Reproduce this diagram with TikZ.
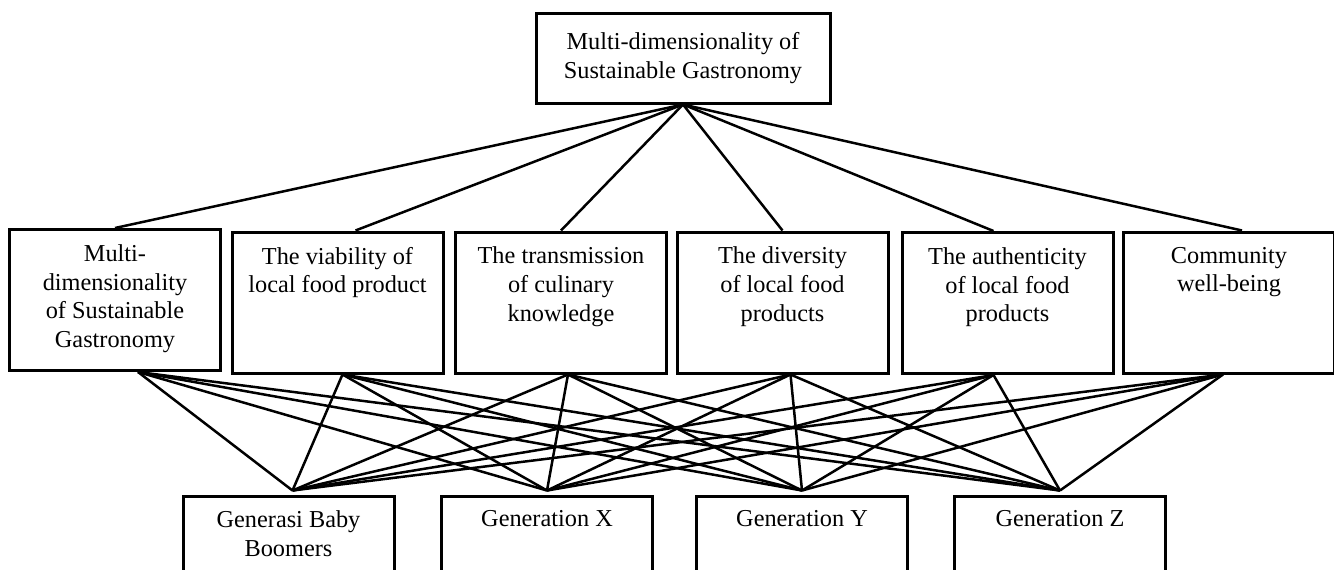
\documentclass[tikz,border=0pt]{standalone}
\usepackage{fontspec}
\setmainfont{Liberation Serif}
\newcommand{\toptxt}[2]{\parbox[t][#1][t]{205pt}{\centering #2}}
\tikzset{
  every node/.style={font=\fontsize{24.3}{28.8}\selectfont},
  frame/.style={draw, line width=3pt, inner sep=0pt, minimum width=211pt},
  dim/.style={frame, minimum height=141pt},
  gen/.style={frame, minimum height=110pt},
  link/.style={line width=2.5pt}
}
\begin{document}
\begin{tikzpicture}[x=1pt, y=-1pt]
\useasboundingbox (0,0) rectangle (1334,570);
\clip (0,0) rectangle (1334,570);

\node[frame, minimum width=294pt, minimum height=90pt, align=center] (goal) at (683,58) {Multi-dimensionality of\\[1pt]Sustainable Gastronomy};

\node[dim] (d1) at (115,300) {\toptxt{111pt}{Multi-\\dimensionality\\of Sustainable\\Gastronomy}};
\node[dim] (d2) at (337.5,302.5) {\toptxt{111pt}{The viability of\\local food product}};
\node[dim] (d3) at (561,302.5) {\toptxt{111pt}{The transmission\\of culinary\\knowledge}};
\node[dim] (d4) at (782.5,302.5) {\toptxt{111pt}{The diversity\\of local food\\products}};
\node[dim] (d5) at (1007.5,303) {\toptxt{111pt}{The authenticity\\of local food\\products}};
\node[dim] (d6) at (1229,302.5) {\toptxt{111pt}{Community\\well-being}};

\node[gen] (g1) at (288.5,551) {\toptxt{80pt}{Generasi Baby\\Boomers}};
\node[gen] (g2) at (547,551) {\toptxt{82pt}{Generation X}};
\node[gen] (g3) at (802,551) {\toptxt{82pt}{Generation Y}};
\node[gen] (g4) at (1060,551) {\toptxt{82pt}{Generation Z}};

% upper level
\draw[link] (goal.south) -- (d1.north);
\draw[link] (goal.south) -- ([xshift=18pt]d2.north);
\draw[link] (goal.south) -- (d3.north);
\draw[link] (goal.south) -- (d4.north);
\draw[link] (goal.south) -- ([xshift=-14pt]d5.north);
\draw[link] (goal.south) -- ([xshift=13pt]d6.north);

% lower level
\coordinate (b1) at ([xshift=23pt]d1.south);
\coordinate (b2) at ([xshift=5pt]d2.south);
\coordinate (b3) at ([xshift=7pt]d3.south);
\coordinate (b4) at ([xshift=8pt]d4.south);
\coordinate (b5) at ([xshift=-14pt]d5.south);
\coordinate (b6) at ([xshift=-6pt]d6.south);
\coordinate (e1) at ([xshift=4pt,yshift=4pt]g1.north);
\coordinate (e2) at ([yshift=4pt]g2.north);
\coordinate (e3) at ([yshift=4pt]g3.north);
\coordinate (e4) at ([yshift=4pt]g4.north);
\foreach \i in {1,...,6}
  \foreach \j in {1,...,4}
    \draw[link] (b\i) -- (e\j);
\end{tikzpicture}
\end{document}
